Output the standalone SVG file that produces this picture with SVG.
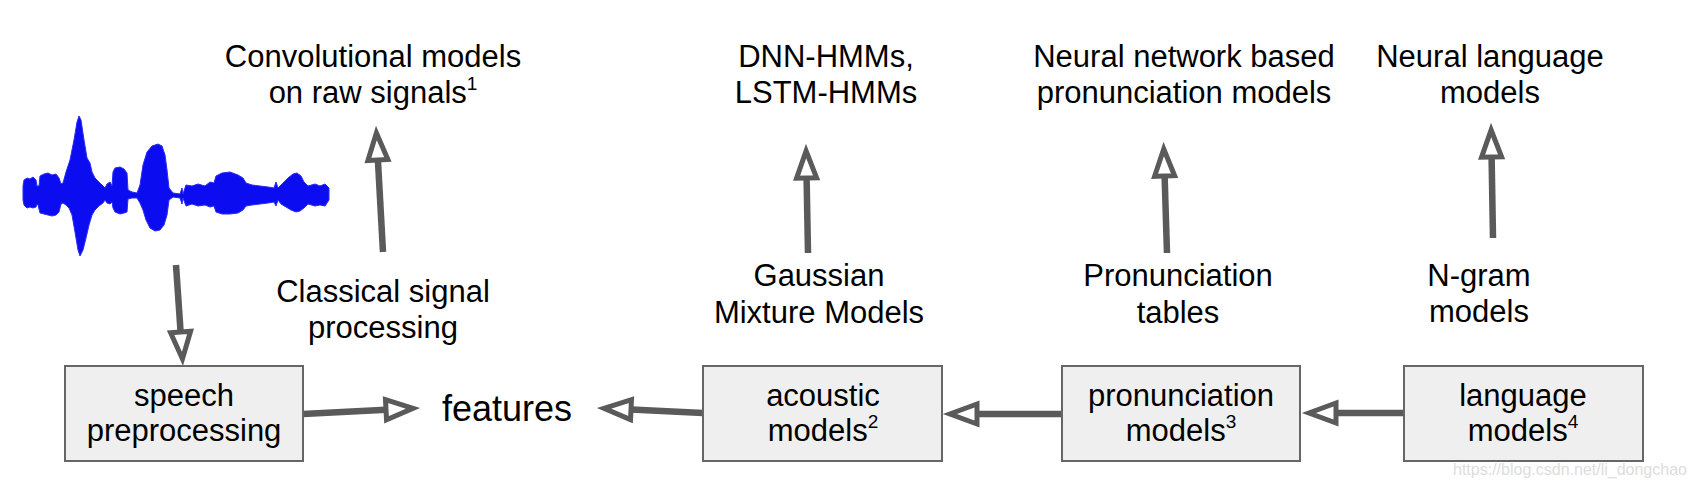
<svg xmlns="http://www.w3.org/2000/svg" width="1696" height="488" viewBox="0 0 1696 488">
<style>
  .t { font-family: "Liberation Sans", Arial, sans-serif; font-size: 31px; fill: #000; text-anchor: middle; }
  .big { font-size: 36px; }
  .sup { font-size: 19px; }
  .box { fill: #efefef; stroke: #666; stroke-width: 2; }
  .conn { stroke: #5a5a5a; stroke-width: 6.5; fill: none; marker-end: url(#ah); }
  .wm { font-family: "Liberation Sans", Arial, sans-serif; font-size: 16px; fill: #dddddd; text-anchor: middle; }
</style>
<defs>
  <marker id="ah" markerUnits="userSpaceOnUse" viewBox="-6 -18 48 36" markerWidth="48" markerHeight="36" refX="0" refY="0" orient="auto" overflow="visible">
    <path d="M0,-10 L27,0 L0,10 Z" fill="#fff" stroke="#5a5a5a" stroke-width="5" stroke-linejoin="miter"/>
  </marker>
</defs>
<rect width="1696" height="488" fill="#fff"/>

<g id="waveform">
  <path fill="#0c0cf0" stroke="#2a2af5" stroke-width="1" d="M23,186 L24,180 L27,178 L30,179 L33,177 L36,180 L37,186 L39,186 L40,176 L44,174 L48,173 L52,175 L56,174 L59,178 L61,184 L63,183 L66,172 L70,160 L74,140 L77,122 L79,116 L81,120 L84,140 L87,158 L90,163 L92,172 L95,178 L99,182 L103,186 L105,188 L107,184 L110,182 L112,186 L113,172 L115,168 L120,167 L124,169 L127,173 L128,190 L132,192 L137,193 L140,185 L143,165 L147,152 L152,146 L158,144 L162,146 L165,155 L167,170 L169,188 L173,193 L180,194 L182,188 L183,194 L186,185 L192,186 L198,184 L205,186 L210,182 L214,183 L216,176 L222,173 L230,172 L238,175 L243,178 L246,183 L252,185 L260,186 L268,187 L274,188 L276,182 L278,188 L282,184 L288,178 L293,174 L297,173 L301,176 L304,182 L308,186 L315,184 L320,186 L325,184 L329,188 L329,200 L325,206 L320,205 L315,206 L308,204 L304,208 L300,211 L296,212 L291,210 L286,207 L281,204 L278,200 L276,206 L274,202 L268,203 L260,204 L252,205 L246,206 L243,210 L238,213 L230,214 L222,214 L216,212 L214,206 L210,207 L205,205 L198,206 L192,204 L186,206 L183,198 L182,204 L180,198 L173,197 L169,200 L167,215 L164,225 L160,230 L155,231 L150,228 L146,220 L143,210 L140,203 L137,198 L132,198 L128,199 L127,212 L124,213 L120,214 L115,212 L113,208 L112,202 L110,204 L107,203 L105,200 L103,203 L99,206 L95,210 L92,215 L89,225 L86,238 L83,250 L80,256 L78,250 L75,232 L72,215 L69,208 L66,205 L63,203 L61,204 L59,212 L56,215 L52,216 L48,215 L44,214 L40,213 L38,205 L37,204 L36,207 L33,208 L30,207 L27,208 L24,205 L23,200 Z"/>
</g>

<g id="connectors">
  <line class="conn" x1="176" y1="265" x2="180.6" y2="332"/>
  <line class="conn" x1="303" y1="414" x2="386" y2="409.7"/>
  <line class="conn" x1="383" y1="252" x2="377.9" y2="160"/>
  <line class="conn" x1="808" y1="253" x2="806.6" y2="178"/>
  <line class="conn" x1="1167" y1="253" x2="1164.6" y2="176"/>
  <line class="conn" x1="1493" y1="238" x2="1491.6" y2="157"/>
  <line class="conn" x1="703" y1="413" x2="631" y2="409.6"/>
  <line class="conn" x1="1062" y1="414" x2="977" y2="414"/>
  <line class="conn" x1="1404" y1="413" x2="1336" y2="413"/>
</g>

<g id="speech-preprocessing">
  <rect class="box" x="65" y="366" width="238" height="95"/>
  <text class="t" x="184" y="406">speech</text>
  <text class="t" x="184" y="441">preprocessing</text>
</g>

<g id="features">
  <text class="t big" x="507" y="421">features</text>
</g>

<g id="acoustic-models">
  <rect class="box" x="703" y="366" width="239" height="95"/>
  <text class="t" x="823" y="406">acoustic</text>
  <text class="t" x="823" y="441">models<tspan class="sup" dy="-13">2</tspan></text>
</g>

<g id="pronunciation-models">
  <rect class="box" x="1062" y="366" width="238" height="95"/>
  <text class="t" x="1181" y="406">pronunciation</text>
  <text class="t" x="1181" y="441">models<tspan class="sup" dy="-13">3</tspan></text>
</g>

<g id="language-models">
  <rect class="box" x="1404" y="366" width="239" height="95"/>
  <text class="t" x="1523" y="406">language</text>
  <text class="t" x="1523" y="441">models<tspan class="sup" dy="-13">4</tspan></text>
</g>

<g id="classical-signal-processing">
  <text class="t" x="383" y="302">Classical signal</text>
  <text class="t" x="383" y="338">processing</text>
</g>

<g id="convolutional-models">
  <text class="t" x="373" y="67">Convolutional models</text>
  <text class="t" x="373" y="103">on raw signals<tspan class="sup" dy="-13">1</tspan></text>
</g>

<g id="gaussian-mixture-models">
  <text class="t" x="819" y="286">Gaussian</text>
  <text class="t" x="819" y="323">Mixture Models</text>
</g>

<g id="dnn-lstm-hmms">
  <text class="t" x="826" y="67">DNN-HMMs,</text>
  <text class="t" x="826" y="103">LSTM-HMMs</text>
</g>

<g id="pronunciation-tables">
  <text class="t" x="1178" y="286">Pronunciation</text>
  <text class="t" x="1178" y="323">tables</text>
</g>

<g id="neural-pronunciation-models">
  <text class="t" x="1184" y="67">Neural network based</text>
  <text class="t" x="1184" y="103">pronunciation models</text>
</g>

<g id="n-gram-models">
  <text class="t" x="1479" y="286">N-gram</text>
  <text class="t" x="1479" y="322">models</text>
</g>

<g id="neural-language-models">
  <text class="t" x="1490" y="67">Neural language</text>
  <text class="t" x="1490" y="103">models</text>
</g>

<text class="wm" x="1570" y="475">https://blog.csdn.net/li_dongchao</text>
</svg>
